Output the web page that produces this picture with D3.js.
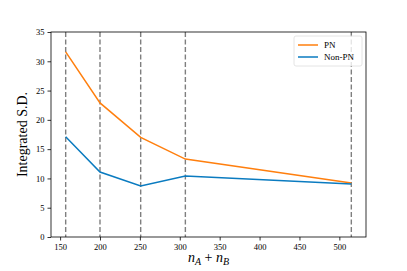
<!DOCTYPE html>
<html>
<head>
<meta charset="utf-8">
<script src="https://cdn.jsdelivr.net/npm/d3@7"></script>
<style>
  body { margin: 0; background: #fff; }
  text { font-family: "Liberation Serif", "DejaVu Serif", serif; }
</style>
</head>
<body>
<div id="chart"></div>
<script>
// Data
const nTotal = [157, 200, 251, 307, 515];
const pnValues = [31.6, 22.9, 17.0, 13.3, 9.2];
const nonPnValues = [17.1, 11.1, 8.7, 10.4, 9.05];
const xTicks = [150, 200, 250, 300, 350, 400, 450, 500];
const yTicks = [0, 5, 10, 15, 20, 25, 30, 35];
const seriesNames = ["PN", "Non-PN"];
const seriesColors = ["#ff7f0e", "#0a7bc0"];

const width = 407, height = 271;
const margin = { left: 51, right: 41, top: 32, bottom: 34 };

const svg = d3.select("#chart").append("svg")
  .attr("width", width)
  .attr("height", height);

const x = d3.scaleLinear()
  .domain([138.6, 533.4])
  .range([margin.left, width - margin.right]);
const y = d3.scaleLinear()
  .domain([0, 35])
  .range([height - margin.bottom, margin.top]);

// dashed vertical lines at each sample size
svg.append("g")
  .selectAll("line")
  .data(nTotal)
  .join("line")
  .attr("x1", d => x(d)).attr("x2", d => x(d))
  .attr("y1", y(35)).attr("y2", y(0))
  .attr("stroke", "#7f7f7f")
  .attr("stroke-width", 1.4)
  .attr("stroke-dasharray", "5,2.5");

const line = d3.line()
  .x((d, i) => x(nTotal[i]))
  .y(d => y(d));

[pnValues, nonPnValues].forEach((vals, k) => {
  svg.append("path")
    .datum(vals)
    .attr("fill", "none")
    .attr("stroke", seriesColors[k])
    .attr("stroke-width", 1.5)
    .attr("d", line);
});

// axes
const xAxis = svg.append("g")
  .attr("transform", `translate(0,${y(0)})`)
  .call(d3.axisBottom(x).tickValues(xTicks).tickSize(3.5).tickPadding(3));
const yAxis = svg.append("g")
  .attr("transform", `translate(${margin.left},0)`)
  .call(d3.axisLeft(y).tickValues(yTicks).tickSize(3.5).tickPadding(3));
[xAxis, yAxis].forEach(g => {
  g.select(".domain").remove();
  g.selectAll("text").attr("font-size", 8.5).attr("fill", "#000")
    .style("font-family", "'Liberation Serif', serif");
  g.selectAll("line").attr("stroke", "#000").attr("stroke-width", 0.8);
});

// frame
svg.append("rect")
  .attr("x", margin.left).attr("y", margin.top)
  .attr("width", width - margin.left - margin.right)
  .attr("height", height - margin.top - margin.bottom)
  .attr("fill", "none")
  .attr("stroke", "#000")
  .attr("stroke-width", 0.8);

// axis labels
svg.append("text")
  .attr("transform", `translate(27,${(margin.top + height - margin.bottom) / 2}) rotate(-90)`)
  .attr("text-anchor", "middle")
  .attr("font-size", 14)
  .text("Integrated S.D.");

const xl = svg.append("text")
  .attr("x", (margin.left + width - margin.right) / 2)
  .attr("y", 262)
  .attr("text-anchor", "middle")
  .attr("font-size", 14);
xl.append("tspan").attr("font-style", "italic").text("n");
xl.append("tspan").attr("font-style", "italic").attr("font-size", 10).attr("dy", 3).text("A");
xl.append("tspan").attr("dy", -3).text(" + ");
xl.append("tspan").attr("font-style", "italic").text("n");
xl.append("tspan").attr("font-style", "italic").attr("font-size", 10).attr("dy", 3).text("B");

// legend
const lg = svg.append("g").attr("transform", "translate(294,36)");
lg.append("rect")
  .attr("width", 68).attr("height", 30).attr("rx", 2)
  .attr("fill", "#fff").attr("fill-opacity", 0.8)
  .attr("stroke", "#ddd").attr("stroke-width", 0.8);
seriesNames.forEach((name, i) => {
  const yy = 9 + i * 12;
  lg.append("line")
    .attr("x1", 4).attr("x2", 24).attr("y1", yy).attr("y2", yy)
    .attr("stroke", seriesColors[i]).attr("stroke-width", 1.5);
  lg.append("text")
    .attr("x", 30).attr("y", yy + 3)
    .attr("font-size", 9)
    .text(name);
});
</script>
</body>
</html>
